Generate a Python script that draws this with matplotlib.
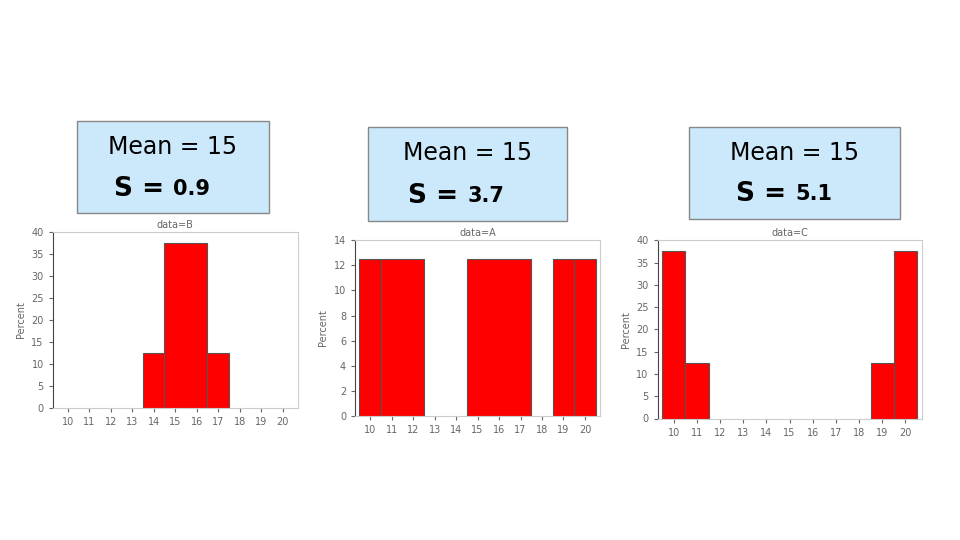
import matplotlib.pyplot as plt

# histogram data: bin centres, widths, percent
b_x = [14, 15.5, 17]
b_w = [1, 2, 1]
b_pct = [12.5, 37.5, 12.5]

a_x = [10, 11.5, 16, 19, 20]
a_w = [1, 2, 3, 1, 1]
a_pct = [12.5, 12.5, 12.5, 12.5, 12.5]

c_x = [10, 11, 19, 20]
c_w = [1, 1, 1, 1]
c_pct = [37.5, 12.5, 12.5, 37.5]

titles = ['data=B', 'data=A', 'data=C']
sds = ['0.9', '3.7', '5.1']
xticks = list(range(10, 21))

fig = plt.figure(figsize=(9.6, 5.4), dpi=100)

panels = [
    (b_x, b_w, b_pct, [0.055, 0.245, 0.255, 0.325], 40, 5, (0.08, 0.605, 0.2, 0.17)),
    (a_x, a_w, a_pct, [0.37, 0.23, 0.255, 0.325], 14, 2, (0.383, 0.59, 0.208, 0.175)),
    (c_x, c_w, c_pct, [0.685, 0.225, 0.275, 0.33], 40, 5, (0.718, 0.595, 0.22, 0.17)),
]

for i, (xs, ws, pct, rect, ymax, ystep, box) in enumerate(panels):
    ax = fig.add_axes(rect)
    ax.bar(xs, pct, width=ws, color='#ff0000', edgecolor='#555555', linewidth=0.8)
    ax.set_xlim(9.3, 20.7)
    ax.set_ylim(0, ymax)
    ax.set_xticks(xticks)
    ax.set_yticks(range(0, ymax + 1, ystep))
    ax.tick_params(labelsize=7, colors='#666666', length=3)
    ax.set_ylabel('Percent', fontsize=7, color='#666666')
    ax.set_title(titles[i], fontsize=7, color='#666666', pad=3)
    for s in ['top', 'right', 'bottom']:
        ax.spines[s].set_color('#cccccc')
    ax.spines['left'].set_color('#444444')

    bx, by, bw, bh = box
    fig.patches.append(plt.Rectangle((bx, by), bw, bh, transform=fig.transFigure,
                                     facecolor='#cce9fb', edgecolor='#888888', linewidth=1))
    fig.text(bx + bw / 2, by + bh * 0.72, 'Mean = 15', ha='center', va='center', fontsize=17)
    fig.text(bx + bw / 2, by + bh * 0.27, 'S = ', ha='right', va='center', fontsize=19, fontweight='bold')
    fig.text(bx + bw / 2, by + bh * 0.27, sds[i], ha='left', va='center', fontsize=15, fontweight='bold')

fig.savefig('out.png')
